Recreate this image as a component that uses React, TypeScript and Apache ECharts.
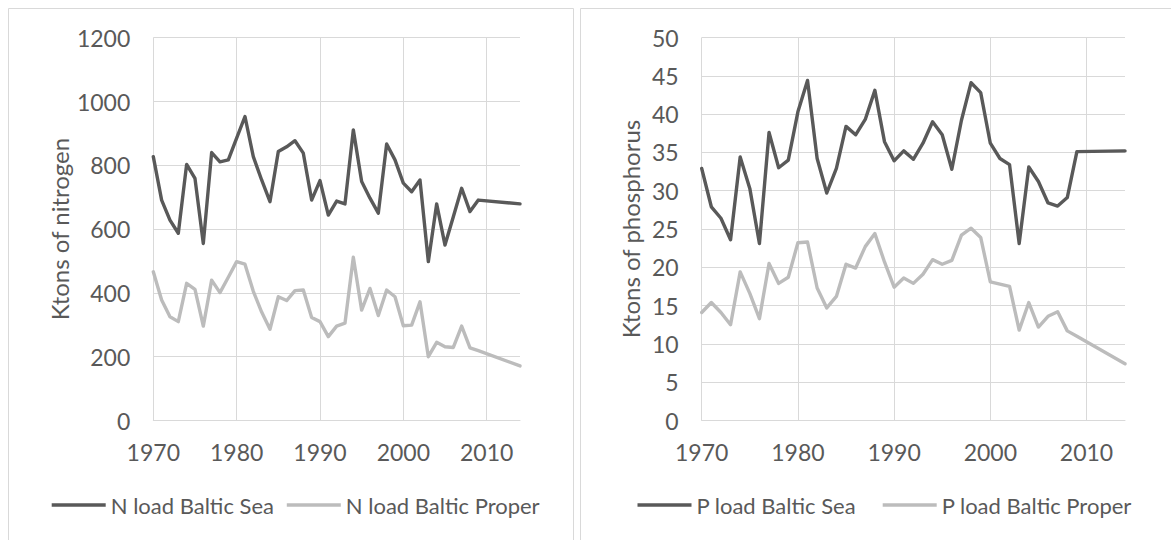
import React, { useEffect, useRef } from "react";
import * as echarts from "echarts";

const years = [
  1970, 1971, 1972, 1973, 1974, 1975, 1976, 1977, 1978, 1979,
  1980, 1981, 1982, 1983, 1984, 1985, 1986, 1987, 1988, 1989,
  1990, 1991, 1992, 1993, 1994, 1995, 1996, 1997, 1998, 1999,
  2000, 2001, 2002, 2003, 2004, 2005, 2006, 2007, 2008, 2009,
  2014,
];

const nLoadBalticSea = [
  827, 691, 628, 587, 803, 759, 555, 840, 811, 817,
  885, 953, 827, 754, 686, 843, 858, 877, 838, 691,
  752, 644, 688, 679, 911, 749, 697, 650, 867, 817,
  744, 717, 754, 498, 679, 550, 639, 728, 655, 691,
  679,
];

const nLoadBalticProper = [
  466, 378, 325, 310, 430, 411, 296, 440, 401, 449,
  498, 490, 405, 340, 286, 388, 376, 407, 409, 323,
  310, 263, 296, 305, 512, 346, 414, 329, 409, 388,
  297, 299, 372, 200, 245, 231, 229, 296, 228, 219,
  171,
];

const pLoadBalticSea = [
  32.9, 27.9, 26.4, 23.6, 34.4, 30.3, 23.1, 37.6, 33.0, 34.0,
  40.3, 44.4, 34.2, 29.7, 32.9, 38.4, 37.3, 39.3, 43.1, 36.4,
  33.9, 35.2, 34.1, 36.2, 39.0, 37.3, 32.8, 39.2, 44.1, 42.8,
  36.2, 34.2, 33.4, 23.1, 33.1, 31.2, 28.4, 28.0, 29.1, 35.1,
  35.2,
];

const pLoadBalticProper = [
  14.1, 15.4, 14.1, 12.5, 19.4, 16.6, 13.3, 20.5, 17.9, 18.7,
  23.2, 23.3, 17.3, 14.7, 16.2, 20.4, 19.9, 22.7, 24.4, 20.7,
  17.4, 18.6, 17.9, 19.1, 21.0, 20.4, 20.9, 24.2, 25.1, 23.9,
  18.1, 17.8, 17.5, 11.8, 15.4, 12.2, 13.6, 14.2, 11.7, 11.0,
  7.4,
];

const seriesNames = [
  "N load Baltic Sea",
  "N load Baltic Proper",
  "P load Baltic Sea",
  "P load Baltic Proper",
];
const axisTitles = ["Ktons of nitrogen", "Ktons of phosphorus"];

const DARK = "#595959";
const LIGHT = "#bcbcbc";
const GRID = "#d9d9d9";
const TEXT = "#595959";
const FONT = "Lato";

function pairs(vals: number[]) {
  return years.map((y, i) => [y, vals[i]]);
}

const plain = (v: number) => String(v);

function xAxisCfg(gridIndex: number) {
  return {
    type: "value",
    gridIndex,
    min: 1970,
    max: 2014,
    interval: 10,
    axisLine: { show: true, lineStyle: { color: GRID, width: 1 } },
    axisTick: { show: false },
    axisLabel: {
      color: TEXT,
      fontSize: 23,
      fontFamily: FONT,
      margin: 20,
      showMaxLabel: false,
      formatter: plain,
    },
    splitLine: {
      show: true,
      showMaxLine: false,
      lineStyle: { color: GRID, width: 1 },
    },
  };
}

function yAxisCfg(gridIndex: number, max: number, interval: number, name: string, nameGap: number) {
  return {
    type: "value",
    gridIndex,
    min: 0,
    max,
    interval,
    name,
    nameLocation: "middle",
    nameGap,
    nameTextStyle: { color: TEXT, fontSize: 24, fontFamily: FONT },
    axisLine: { show: false },
    axisTick: { show: false },
    axisLabel: { color: TEXT, fontSize: 23, fontFamily: FONT, margin: 23, formatter: plain },
    splitLine: { show: true, lineStyle: { color: GRID, width: 1 } },
  };
}

function lineSeries(name: string, vals: number[], color: string, idx: number) {
  return {
    type: "line",
    name,
    xAxisIndex: idx,
    yAxisIndex: idx,
    data: pairs(vals),
    symbol: "none",
    color,
    itemStyle: { color },
    lineStyle: { color, width: 3.4, join: "round", cap: "round" },
  };
}

function legendCfg(name: string, left: number) {
  return {
    data: [name],
    left,
    top: 494,
    padding: 0,
    icon: "rect",
    itemWidth: 54,
    itemHeight: 3.4,
    textStyle: { color: TEXT, fontSize: 22, fontFamily: FONT },
  };
}

export default function App() {
  const ref = useRef<HTMLDivElement>(null);

  useEffect(() => {
    if (!ref.current) return;
    const chart = echarts.init(ref.current, undefined, { renderer: "svg" });
    chart.setOption({
      animation: false,
      backgroundColor: "#ffffff",
      textStyle: { fontFamily: FONT },
      grid: [
        { left: 153.3, top: 37.7, width: 366.7, height: 382.8 },
        { left: 701.7, top: 37.5, width: 423.3, height: 383 },
      ],
      xAxis: [xAxisCfg(0), xAxisCfg(1)],
      yAxis: [
        yAxisCfg(0, 1200, 200, axisTitles[0], 82),
        yAxisCfg(1, 50, 5, axisTitles[1], 59),
      ],
      legend: [
        legendCfg(seriesNames[0], 51.7),
        legendCfg(seriesNames[1], 286.8),
        legendCfg(seriesNames[2], 637.5),
        legendCfg(seriesNames[3], 882.7),
      ],
      series: [
        lineSeries(seriesNames[0], nLoadBalticSea, DARK, 0),
        lineSeries(seriesNames[1], nLoadBalticProper, LIGHT, 0),
        lineSeries(seriesNames[2], pLoadBalticSea, DARK, 1),
        lineSeries(seriesNames[3], pLoadBalticProper, LIGHT, 1),
      ],
      graphic: [
        {
          type: "rect",
          shape: { x: 8.5, y: 8.5, width: 565, height: 600 },
          style: { fill: "none", stroke: GRID, lineWidth: 1 },
          silent: true,
          z: -1,
        },
        {
          type: "rect",
          shape: { x: 580.5, y: 8.5, width: 620, height: 600 },
          style: { fill: "none", stroke: GRID, lineWidth: 1 },
          silent: true,
          z: -1,
        },
      ],
    });
    return () => chart.dispose();
  }, []);

  return (
    <div
      ref={ref}
      style={{ position: "fixed", left: 0, top: 0, width: 1171, height: 540 }}
    />
  );
}
